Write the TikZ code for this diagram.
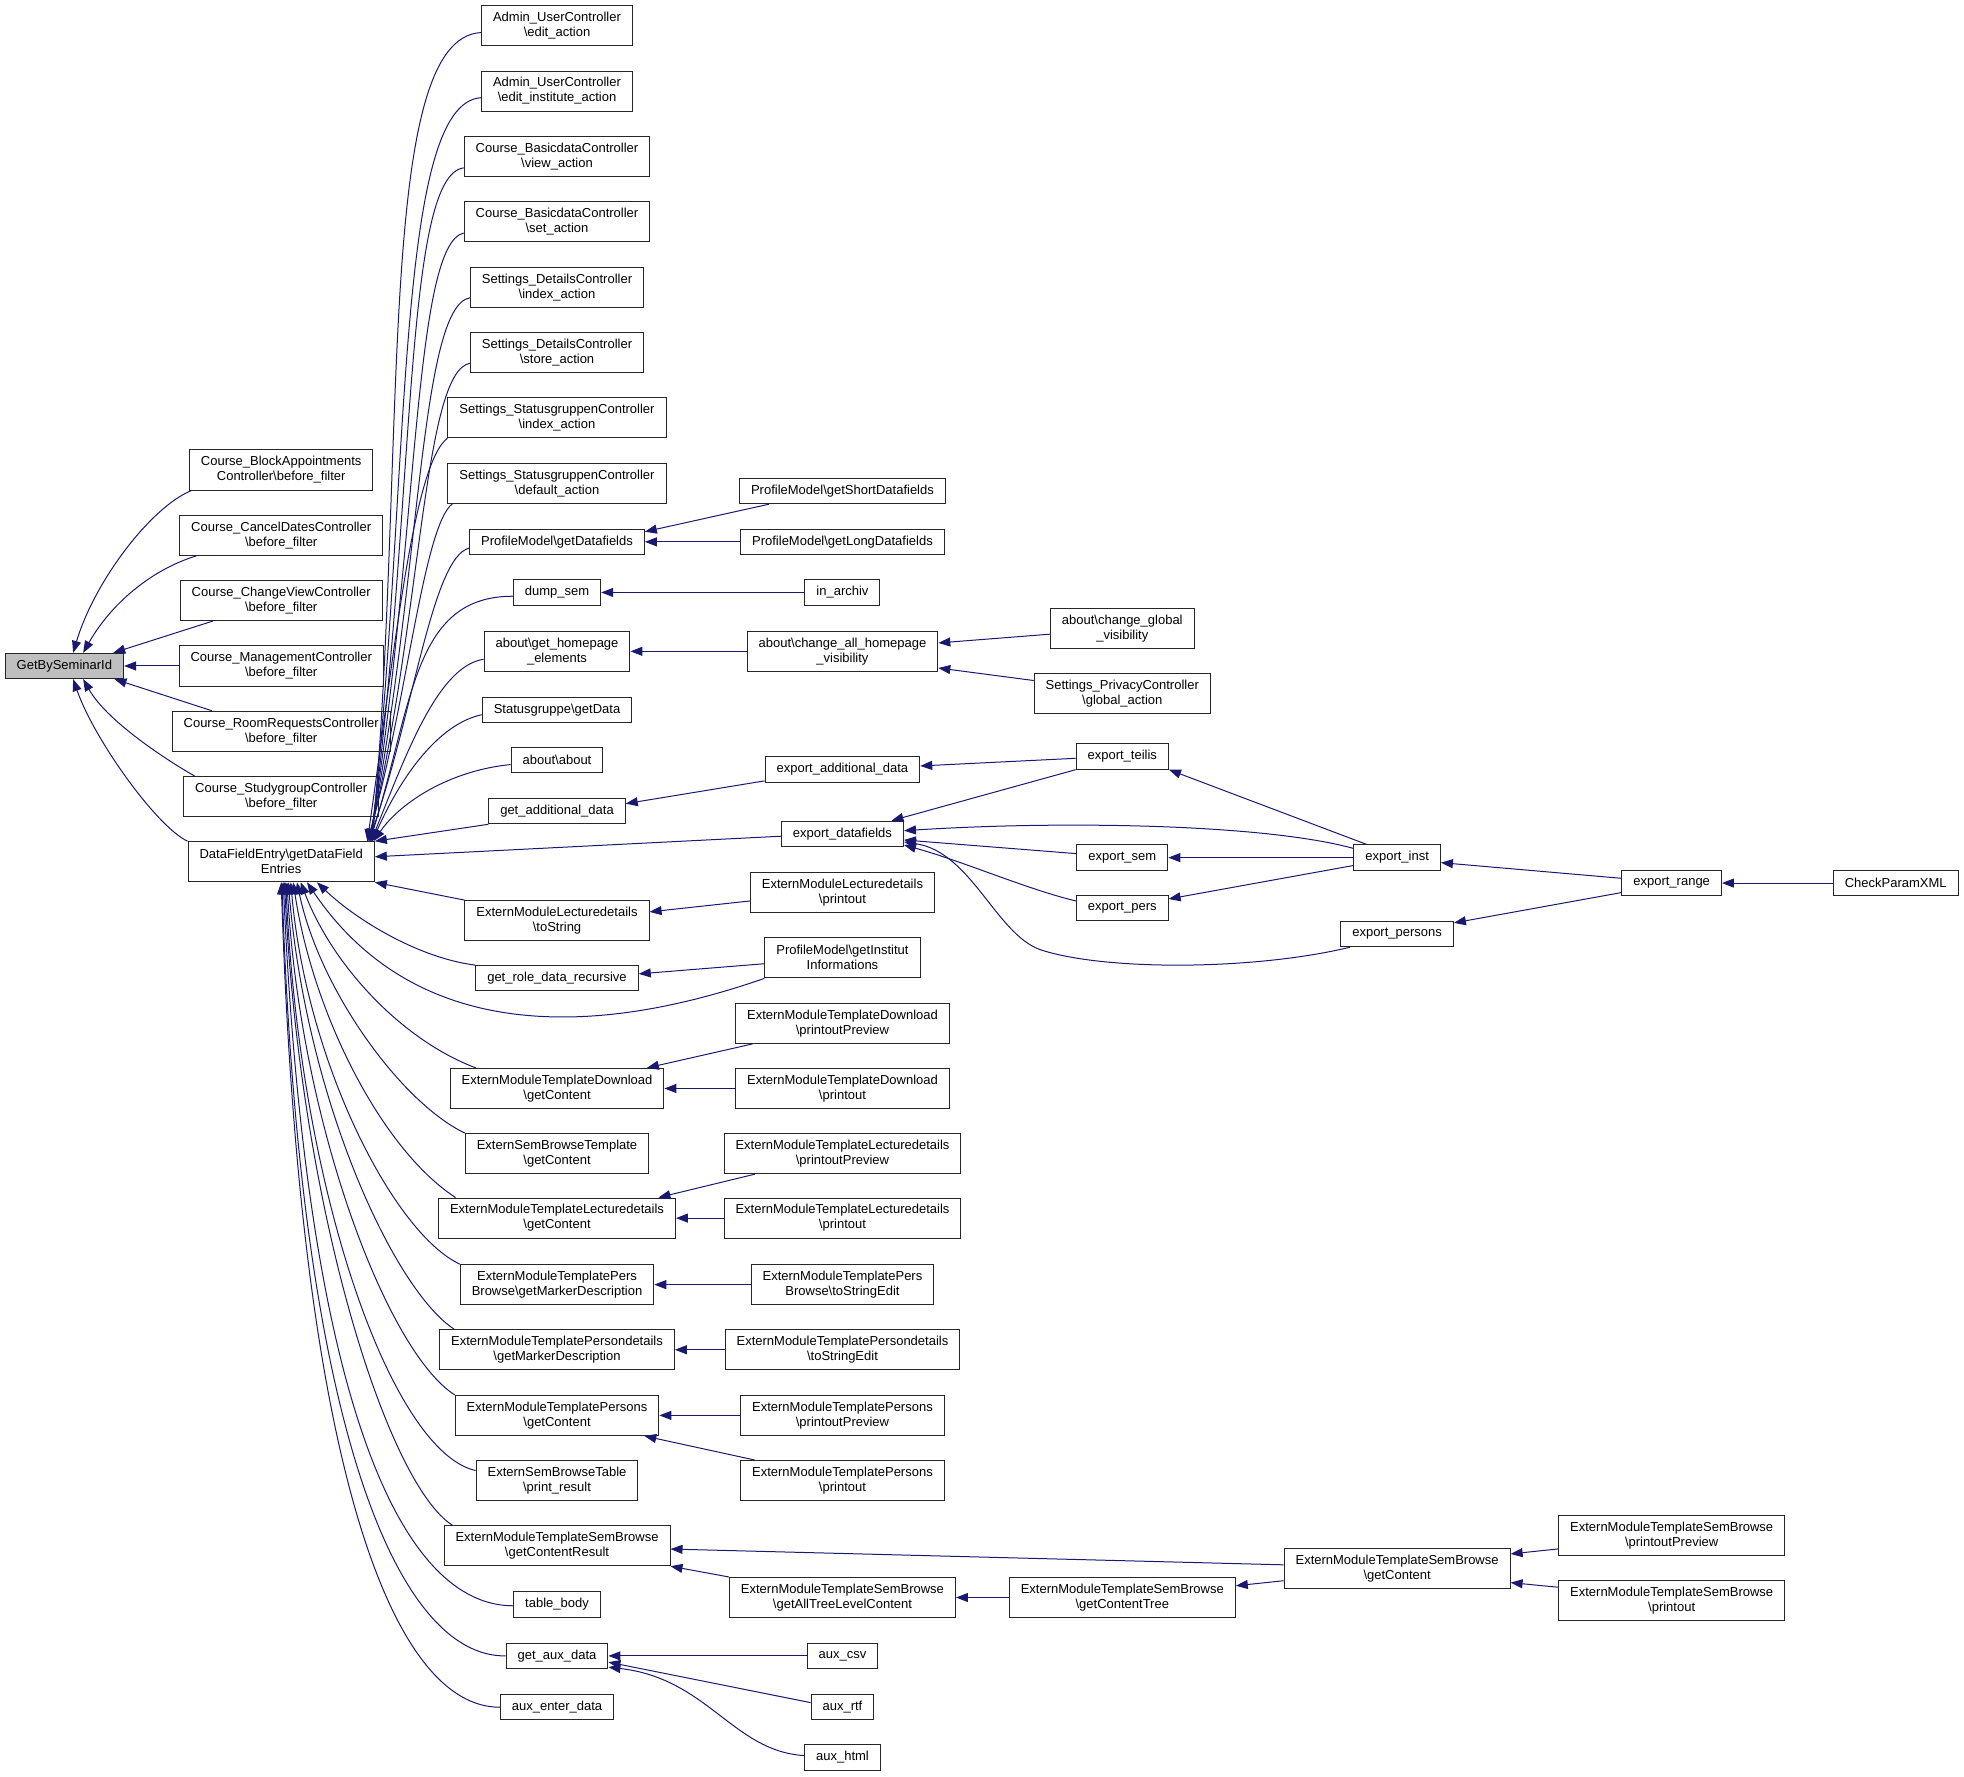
\documentclass[tikz,border=0pt]{standalone}
\usepackage{fontspec}
\setmainfont{Liberation Sans}
\usepackage{tikz}
\usetikzlibrary{arrows.meta,calc}
\definecolor{edgeblue}{RGB}{25,25,112}
\definecolor{curgray}{RGB}{191,191,191}
\newcommand{\bsl}{\textbackslash}
\tikzset{>={Triangle[length=12pt,width=9pt]}}
\tikzset{
  func/.style={draw=black!85, line width=1pt, fill=white, inner xsep=11.5pt, inner ysep=5pt,
    minimum height=25.3pt, align=center, font=\fontsize{13}{15}\selectfont},
  func2/.style={func, minimum height=40.1pt},
  cur/.style={func, fill=curgray},
  calls/.style={->, draw=edgeblue, line width=1pt},
}

\begin{document}
\begin{tikzpicture}[x=1.2526pt, y=-1.2526pt]
      \useasboundingbox (0,0) rectangle (1568,1418.7) ;
      % the function and its direct callers
      \node[cur] (gbs) at (51.4,531.7) {GetBySeminarId};
      \node[func2] (blockapp) at (224.5,375.2) {Course\_BlockAppointments\\Controller\bsl before\_filter};
      \node[func2] (canceldates) at (224.5,427.4) {Course\_CancelDatesController\\\bsl before\_filter};
      \node[func2] (changeview) at (224.5,479.4) {Course\_ChangeViewController\\\bsl before\_filter};
      \node[func2] (management) at (224.5,531.7) {Course\_ManagementController\\\bsl before\_filter};
      \node[func2] (roomreq) at (224.5,583.8) {Course\_RoomRequestsController\\\bsl before\_filter};
      \node[func2] (studygroup) at (224.5,635.9) {Course\_StudygroupController\\\bsl before\_filter};
      \node[func2] (dfe) at (224.5,688) {DataFieldEntry\bsl getDataField\\Entries};
      % callers of DataFieldEntry
      \node[func2] (edituser) at (444.7,20.6) {Admin\_UserController\\\bsl edit\_action};
      \node[func2] (editinst) at (444.7,72.7) {Admin\_UserController\\\bsl edit\_institute\_action};
      \node[func2] (viewact) at (444.7,125) {Course\_BasicdataController\\\bsl view\_action};
      \node[func2] (setact) at (444.7,177) {Course\_BasicdataController\\\bsl set\_action};
      \node[func2] (detidx) at (444.7,229.3) {Settings\_DetailsController\\\bsl index\_action};
      \node[func2] (detstore) at (444.7,281.5) {Settings\_DetailsController\\\bsl store\_action};
      \node[func2] (statidx) at (444.7,333.5) {Settings\_StatusgruppenController\\\bsl index\_action};
      \node[func2] (statdef) at (444.7,385.7) {Settings\_StatusgruppenController\\\bsl default\_action};
      \node[func] (getdf) at (444.7,432.6) {ProfileModel\bsl getDatafields};
      \node[func] (dumpsem) at (444.7,473) {dump\_sem};
      \node[func2] (gethome) at (444.7,520) {about\bsl get\_homepage\\\_elements};
      \node[func] (sgdata) at (444.7,567) {Statusgruppe\bsl getData};
      \node[func] (about) at (444.7,607) {about\bsl about};
      \node[func] (getadd) at (444.7,647.6) {get\_additional\_data};
      \node[func2] (lecstr) at (444.7,735) {ExternModuleLecturedetails\\\bsl toString};
      \node[func] (getrole) at (444.7,781) {get\_role\_data\_recursive};
      \node[func2] (dlcont) at (444.7,869) {ExternModuleTemplateDownload\\\bsl getContent};
      \node[func2] (sbtcont) at (444.7,921) {ExternSemBrowseTemplate\\\bsl getContent};
      \node[func2] (leccont) at (444.7,972.5) {ExternModuleTemplateLecturedetails\\\bsl getContent};
      \node[func2] (pbmark) at (444.7,1025.6) {ExternModuleTemplatePers\\Browse\bsl getMarkerDescription};
      \node[func2] (pdmark) at (444.7,1077.6) {ExternModuleTemplatePersondetails\\\bsl getMarkerDescription};
      \node[func2] (perscont) at (444.7,1130) {ExternModuleTemplatePersons\\\bsl getContent};
      \node[func2] (sbtab) at (444.7,1182) {ExternSemBrowseTable\\\bsl print\_result};
      \node[func2] (sbres) at (444.7,1234) {ExternModuleTemplateSemBrowse\\\bsl getContentResult};
      \node[func] (tabbody) at (444.7,1281) {table\_body};
      \node[func] (getaux) at (444.7,1322) {get\_aux\_data};
      \node[func] (auxenter) at (444.7,1363) {aux\_enter\_data};
      % next column
      \node[func] (getshort) at (672.6,392) {ProfileModel\bsl getShortDatafields};
      \node[func] (getlong) at (672.6,432.6) {ProfileModel\bsl getLongDatafields};
      \node[func] (inarch) at (672.6,473) {in\_archiv};
      \node[func2] (chall) at (672.6,520) {about\bsl change\_all\_homepage\\\_visibility};
      \node[func] (expadd) at (672.6,614.4) {export\_additional\_data};
      \node[func] (expdf) at (672.6,665.7) {export\_datafields};
      \node[func2] (lsprint) at (672.6,712.7) {ExternModuleLecturedetails\\\bsl printout};
      \node[func2] (getinst) at (672.6,764.7) {ProfileModel\bsl getInstitut\\Informations};
      \node[func2] (dlprev) at (672.6,817) {ExternModuleTemplateDownload\\\bsl printoutPreview};
      \node[func2] (dlprint) at (672.6,869) {ExternModuleTemplateDownload\\\bsl printout};
      \node[func2] (ltprev) at (672.6,921) {ExternModuleTemplateLecturedetails\\\bsl printoutPreview};
      \node[func2] (ltprint) at (672.6,972.5) {ExternModuleTemplateLecturedetails\\\bsl printout};
      \node[func2] (pbedit) at (672.6,1025.6) {ExternModuleTemplatePers\\Browse\bsl toStringEdit};
      \node[func2] (pdedit) at (672.6,1077.6) {ExternModuleTemplatePersondetails\\\bsl toStringEdit};
      \node[func2] (persprev) at (672.6,1130) {ExternModuleTemplatePersons\\\bsl printoutPreview};
      \node[func2] (persprint) at (672.6,1182) {ExternModuleTemplatePersons\\\bsl printout};
      \node[func2] (sbtree) at (672.6,1275.4) {ExternModuleTemplateSemBrowse\\\bsl getAllTreeLevelContent};
      \node[func] (auxcsv) at (672.6,1322) {aux\_csv};
      \node[func] (auxrtf) at (672.6,1363) {aux\_rtf};
      \node[func] (auxhtml) at (672.6,1403) {aux\_html};
      \node[func2] (chglob) at (896,502) {about\bsl change\_global\\\_visibility};
      \node[func2] (privacy) at (896,554) {Settings\_PrivacyController\\\bsl global\_action};
      \node[func] (teilis) at (896,604) {export\_teilis};
      \node[func] (expsem) at (896,684.7) {export\_sem};
      \node[func] (exppers) at (896,725) {export\_pers};
      \node[func2] (sbctree) at (896,1275.4) {ExternModuleTemplateSemBrowse\\\bsl getContentTree};
      \node[func] (expinst) at (1115.4,684.7) {export\_inst};
      \node[func] (exppersons) at (1115.4,745.7) {export\_persons};
      \node[func2] (sbcont) at (1115.4,1252) {ExternModuleTemplateSemBrowse\\\bsl getContent};
      \node[func] (exprange) at (1334.6,705) {export\_range};
      \node[func2] (sbprev) at (1334.6,1225.6) {ExternModuleTemplateSemBrowse\\\bsl printoutPreview};
      \node[func2] (sbprint) at (1334.6,1277.8) {ExternModuleTemplateSemBrowse\\\bsl printout};
      \node[func] (checkxml) at (1513.5,705) {CheckParamXML};

      % edges into GetBySeminarId
      \draw[calls] ($(blockapp.south west)+(2,0)$) .. controls (120,405) and (75,465) .. ($(gbs.north)+(7,0)$) ;
      \draw[calls] ($(canceldates.south west)+(13.6,0)$) .. controls (120,455) and (88,483) .. ($(gbs.north)+(15,0)$) ;
      \draw[calls] ($(changeview.south west)+(26.5,0)$) -- ($(gbs.north)+(39,0)$) ;
      \draw[calls] (management) -- (gbs) ;
      \draw[calls] ($(roomreq.north west)+(32,0)$) -- ($(gbs.south)+(40,0)$) ;
      \draw[calls] ($(studygroup.north west)+(9,0)$) .. controls (130,605) and (85,575) .. ($(gbs.south)+(15,0)$) ;
      \draw[calls] (dfe.north west) .. controls (125,660) and (75,590) .. ($(gbs.south)+(7,0)$) ;

      % edges into DataFieldEntry, from above
      \draw[calls] ($(edituser.west)+(0,5.4)$) .. controls (300,30) and (325,350) .. ($(dfe.north east)+(-2,0)$) ;
      \draw[calls] ($(editinst.west)+(0,5.3)$) .. controls (315,82) and (328,380) .. ($(dfe.north east)+(-3,0)$) ;
      \draw[calls] ($(viewact.west)+(0,9)$) .. controls (322,140) and (332,400) .. ($(dfe.north east)+(-3.5,0)$) ;
      \draw[calls] ($(setact.west)+(0,9)$) .. controls (330,195) and (334,430) .. ($(dfe.north east)+(-4,0)$) ;
      \draw[calls] ($(detidx.west)+(0,8.4)$) .. controls (335,245) and (336,460) .. ($(dfe.north east)+(-4.5,0)$) ;
      \draw[calls] ($(detstore.west)+(0,8.5)$) .. controls (338,297) and (337,490) .. ($(dfe.north east)+(-5,0)$) ;
      \draw[calls] (statidx.south west) .. controls (330,370) and (315,520) .. ($(dfe.north east)+(-6,0)$) ;
      \draw[calls] ($(statdef.south west)+(4,0)$) .. controls (338,420) and (325,560) .. ($(dfe.north east)+(-6,0)$) ;
      \draw[calls] ($(getdf.west)+(0,5)$) .. controls (345,445) and (330,570) .. ($(dfe.north east)+(-5,0)$) ;
      \draw[calls] ($(dumpsem.west)+(0,3)$) .. controls (330,476) and (330,560) .. ($(dfe.north east)+(-4,0)$) ;
      \draw[calls] ($(gethome.west)+(0,6.3)$) .. controls (350,532) and (325,600) .. ($(dfe.north east)+(-3,0)$) ;
      \draw[calls] ($(sgdata.west)+(0,3.6)$) .. controls (350,578) and (320,620) .. ($(dfe.north east)+(-2,0)$) ;
      \draw[calls] ($(about.west)+(0,3.4)$) .. controls (360,615) and (320,640) .. ($(dfe.north east)+(-1,0)$) ;
      \draw[calls] (getadd.south west) -- (dfe.north east) ;
      \draw[calls] ($(expdf.west)+(0,1.9)$) -- ($(dfe.east)+(0,-4)$) ;
      % edges into DataFieldEntry, from below
      \draw[calls] (lecstr.north west) -- (dfe.south east) ;
      \draw[calls] (getrole.north west) .. controls (335,765) and (285,735) .. ($(dfe.south)+(28.6,0)$) ;
      \draw[calls] (getinst.south west) .. controls (470,830) and (330,830) .. ($(dfe.south)+(20.6,0)$) ;
      \draw[calls] ($(dlcont.north west)+(21,0)$) .. controls (320,830) and (265,770) .. ($(dfe.south)+(15.6,0)$) ;
      \draw[calls] (sbtcont.north west) .. controls (320,880) and (255,790) .. ($(dfe.south)+(12.6,0)$) ;
      \draw[calls] ($(leccont.north west)+(14,0)$) .. controls (305,918) and (250,810) .. ($(dfe.south)+(9.6,0)$) ;
      \draw[calls] (pbmark.north west) .. controls (315,985) and (245,850) .. ($(dfe.south)+(7.6,0)$) ;
      \draw[calls] ($(pdmark.north west)+(12,0)$) .. controls (315,1030) and (245,880) .. ($(dfe.south)+(5.6,0)$) ;
      \draw[calls] (perscont.north west) .. controls (310,1080) and (240,900) .. ($(dfe.south)+(4.6,0)$) ;
      \draw[calls] ($(sbtab.west)+(0,-8)$) .. controls (315,1160) and (240,960) .. ($(dfe.south)+(3.6,0)$) ;
      \draw[calls] ($(sbres.north west)+(7,0)$) .. controls (310,1185) and (240,970) .. ($(dfe.south)+(2.6,0)$) ;
      \draw[calls] ($(tabbody.west)+(0,1)$) .. controls (320,1282) and (245,1120) .. ($(dfe.south)+(1.6,0)$) ;
      \draw[calls] (getaux.west) .. controls (320,1323) and (240,1150) .. ($(dfe.south)+(0.6,0)$) ;
      \draw[calls] (auxenter.west) .. controls (315,1363) and (240,1180) .. (dfe.south) ;

      % the outer callers
      \draw[calls] ($(getshort.south west)+(24,0)$) -- ($(getdf.north east)+(0,2.4)$) ;
      \draw[calls] (getlong) -- (getdf) ;
      \draw[calls] (inarch) -- (dumpsem) ;
      \draw[calls] (chall) -- (gethome) ;
      \draw[calls] ($(chglob.west)+(0,4.3)$) -- ($(chall.east)+(0,-6.7)$) ;
      \draw[calls] ($(privacy.west)+(0,-10.7)$) -- ($(chall.east)+(0,13.3)$) ;
      \draw[calls] ($(expadd.west)+(0,9)$) -- ($(getadd.east)+(0,-6)$) ;
      \draw[calls] ($(teilis.west)+(0,1.4)$) -- ($(expadd.east)+(0,-2.9)$) ;
      \draw[calls] (teilis.south west) -- ($(expdf.north east)+(-10,0)$) ;
      \draw[calls] ($(lsprint.west)+(0,6.6)$) -- ($(lecstr.east)+(0,-7)$) ;
      \draw[calls] ($(getinst.west)+(0,4.7)$) -- ($(getrole.east)+(0,-3.5)$) ;
      \draw[calls] ($(dlprev.south west)+(14,0)$) -- ($(dlcont.north east)+(-14,0)$) ;
      \draw[calls] (dlprint) -- (dlcont) ;
      \draw[calls] ($(ltprev.south west)+(25,0)$) -- ($(leccont.north east)+(-14,0)$) ;
      \draw[calls] (ltprint) -- (leccont) ;
      \draw[calls] (pbedit) -- (pbmark) ;
      \draw[calls] (pdedit) -- (pdmark) ;
      \draw[calls] (persprev) -- (perscont) ;
      \draw[calls] ($(persprint.north west)+(11.5,0)$) -- ($(perscont.south east)+(-12,0)$) ;
      \draw[calls] ($(sbcont.west)+(0,-2.7)$) -- ($(sbres.east)+(0,2.7)$) ;
      \draw[calls] (sbtree.north west) -- (sbres.south east) ;
      \draw[calls] (sbctree) -- (sbtree) ;
      \draw[calls] ($(sbcont.west)+(0,10)$) -- ($(sbctree.east)+(0,-9.4)$) ;
      \draw[calls] ($(sbprev.west)+(0,11)$) -- ($(sbcont.east)+(0,-11.4)$) ;
      \draw[calls] ($(sbprint.west)+(0,-10.6)$) -- ($(sbcont.east)+(0,11.5)$) ;
      \draw[calls] (auxcsv) -- (getaux) ;
      \draw[calls] ($(auxrtf.west)+(0,-3.7)$) -- ($(getaux.east)+(0,5)$) ;
      \draw[calls] ($(auxhtml.west)+(0,-1.4)$) .. controls (585,1398) and (565,1340) .. ($(getaux.east)+(0,9)$) ;
      % export chain
      \draw[calls] ($(expinst.north west)+(10.8,0)$) -- (teilis.south east) ;
      \draw[calls] ($(expinst.west)+(0,-7.4)$) .. controls (1010,658) and (850,655) .. ($(expdf.east)+(0,-2.5)$) ;
      \draw[calls] (expinst) -- (expsem) ;
      \draw[calls] ($(expinst.west)+(0,6.3)$) -- ($(exppers.east)+(0,-7.3)$) ;
      \draw[calls] ($(expsem.west)+(0,-3.2)$) -- ($(expdf.east)+(0,4.9)$) ;
      \draw[calls] ($(exppers.west)+(0,-5.7)$) .. controls (820,710) and (770,688) .. ($(expdf.east)+(0,8.9)$) ;
      \draw[calls] ($(exppersons.south west)+(7.8,0)$) .. controls (1000,775) and (880,775) .. (830,758)
            .. controls (795,745) and (775,680) .. ($(expdf.east)+(0,6.5)$) ;
      \draw[calls] ($(exprange.west)+(0,-3.8)$) -- ($(expinst.east)+(0,4)$) ;
      \draw[calls] ($(exprange.west)+(0,7.6)$) -- ($(exppersons.north east)+(0,1.6)$) ;
      \draw[calls] (checkxml) -- (exprange) ;
\end{tikzpicture}
\end{document}
